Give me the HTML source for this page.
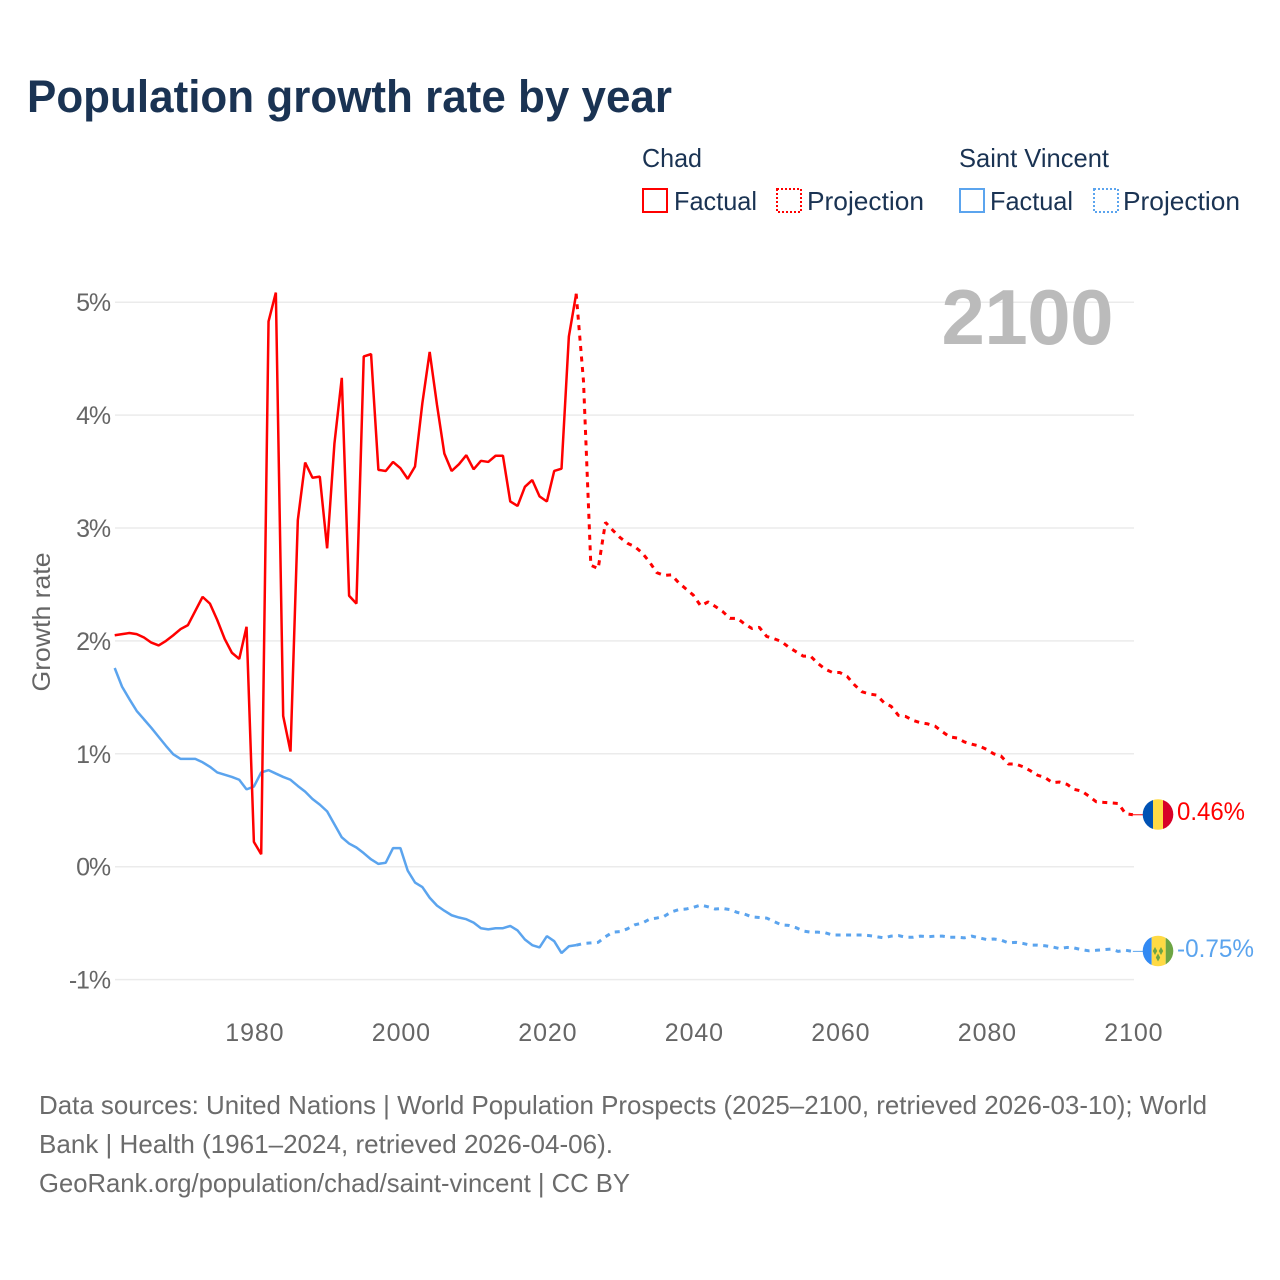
<!DOCTYPE html>
<html lang="en">
<head>
<meta charset="utf-8">
<title>Population growth rate by year</title>
<style>
  html, body { margin: 0; padding: 0; background: #ffffff; }
  svg { display: block; }
  text { font-family: "Liberation Sans", sans-serif; }
</style>
</head>
<body>
<svg id="chart" xmlns="http://www.w3.org/2000/svg" width="1280" height="1280" viewBox="0 0 1280 1280">
  <defs>
    <clipPath id="flag-clip-a"><circle cx="1158" cy="814.5" r="15.3"/></clipPath>
    <clipPath id="flag-clip-b"><circle cx="1158" cy="951" r="15.3"/></clipPath>
  </defs>
  <rect x="0" y="0" width="1280" height="1280" fill="#ffffff"/>

  <text x="27" y="112" font-size="45" font-weight="700" fill="#1a3353" textLength="645" lengthAdjust="spacingAndGlyphs">Population growth rate by year</text>

  <g font-size="26" fill="#1a3353">
    <text x="642" y="167" textLength="60" lengthAdjust="spacingAndGlyphs">Chad</text>
    <text x="959" y="167" textLength="150" lengthAdjust="spacingAndGlyphs">Saint Vincent</text>

    <rect x="643" y="189" width="24" height="23" fill="none" stroke="#ff0000" stroke-width="2"/>
    <text x="674" y="210" textLength="83" lengthAdjust="spacingAndGlyphs">Factual</text>
    <rect x="777" y="189" width="24" height="23" fill="none" stroke="#ff0000" stroke-width="2" stroke-dasharray="2 2"/>
    <text x="807" y="210" textLength="117" lengthAdjust="spacingAndGlyphs">Projection</text>

    <rect x="960" y="189" width="24" height="23" fill="none" stroke="#5ba4ee" stroke-width="2"/>
    <text x="990" y="210" textLength="83" lengthAdjust="spacingAndGlyphs">Factual</text>
    <rect x="1094" y="189" width="24" height="23" fill="none" stroke="#5ba4ee" stroke-width="2" stroke-dasharray="2 2"/>
    <text x="1123" y="210" textLength="117" lengthAdjust="spacingAndGlyphs">Projection</text>
  </g>

  <text transform="translate(50 622) rotate(-90)" text-anchor="middle" font-size="25" fill="#666666" textLength="139" lengthAdjust="spacingAndGlyphs">Growth rate</text>

  <g id="grid-layer"></g>
  <g id="y-tick-layer"></g>
  <g id="x-tick-layer"></g>

  <text x="1113" y="344" text-anchor="end" font-size="78" font-weight="700" fill="#bbbbbb" letter-spacing="-0.5">2100</text>

  <g id="series-layer"></g>

  <g clip-path="url(#flag-clip-a)">
    <rect x="1142" y="798" width="11" height="33" fill="#0052b4"/>
    <rect x="1153" y="798" width="10" height="33" fill="#ffda44"/>
    <rect x="1163" y="798" width="11" height="33" fill="#d80027"/>
  </g>
  <text x="1177" y="820" font-size="25" fill="#ff0000" textLength="68" lengthAdjust="spacingAndGlyphs">0.46%</text>

  <g clip-path="url(#flag-clip-b)">
    <rect x="1142" y="935" width="9.7" height="33" fill="#338af3"/>
    <rect x="1151.7" y="935" width="14" height="33" fill="#ffda44"/>
    <rect x="1165.7" y="935" width="9" height="33" fill="#6da544"/>
    <polygon points="1155,947 1157.2,951 1155,955 1152.8,951" fill="#6da544"/>
    <polygon points="1161,947 1163.2,951 1161,955 1158.8,951" fill="#6da544"/>
    <polygon points="1158,953.5 1160.2,957.5 1158,961.5 1155.8,957.5" fill="#6da544"/>
  </g>
  <text x="1177" y="957" font-size="25" fill="#5ba4ee" textLength="77" lengthAdjust="spacingAndGlyphs">-0.75%</text>

  <g font-size="26" fill="#6b6b6b">
    <text x="39" y="1114" textLength="1168" lengthAdjust="spacingAndGlyphs">Data sources: United Nations | World Population Prospects (2025–2100, retrieved 2026-03-10); World</text>
    <text x="39" y="1153" textLength="574" lengthAdjust="spacingAndGlyphs">Bank | Health (1961–2024, retrieved 2026-04-06).</text>
    <text x="39" y="1192" textLength="591" lengthAdjust="spacingAndGlyphs">GeoRank.org/population/chad/saint-vincent | CC BY</text>
  </g>
</svg>

<script>
const xTickYears = [1980, 2000, 2020, 2040, 2060, 2080, 2100];
const yTickValues = [-1, 0, 1, 2, 3, 4, 5];
const factualStartYear = 1961;
const projectionStartYear = 2024;

const chadFactual = [
  2.05, 2.06, 2.07, 2.06, 2.03, 1.985, 1.96, 2.0, 2.05, 2.105,
  2.14, 2.265, 2.39, 2.33, 2.185, 2.02, 1.895, 1.84, 2.125, 0.22,
  0.11, 4.83, 5.085, 1.335, 1.02, 3.07, 3.58, 3.445, 3.455, 2.82,
  3.75, 4.33, 2.4, 2.33, 4.52, 4.54, 3.515, 3.505, 3.585, 3.53,
  3.435, 3.545, 4.105, 4.56, 4.09, 3.66, 3.505, 3.565, 3.645, 3.52,
  3.595, 3.585, 3.64, 3.64, 3.235, 3.195, 3.365, 3.425, 3.28, 3.235,
  3.505, 3.525, 4.695, 5.075
];

const chadProjection = [
  5.075, 4.3, 2.67, 2.64, 3.05, 2.98, 2.915, 2.865, 2.835, 2.78,
  2.7, 2.605, 2.58, 2.585, 2.515, 2.46, 2.405, 2.31, 2.345, 2.305,
  2.26, 2.2, 2.2, 2.15, 2.11, 2.12, 2.04, 2.02, 1.995, 1.945,
  1.905, 1.865, 1.865, 1.8, 1.75, 1.72, 1.72, 1.685, 1.61, 1.55,
  1.53, 1.52, 1.455, 1.42, 1.34, 1.33, 1.295, 1.275, 1.265, 1.245,
  1.195, 1.15, 1.14, 1.105, 1.085, 1.07, 1.04, 1.0, 0.98, 0.91,
  0.91, 0.885, 0.85, 0.81, 0.79, 0.745, 0.75, 0.73, 0.685, 0.67,
  0.625, 0.575, 0.57, 0.565, 0.56, 0.47, 0.46
];

const vincentFactual = [
  1.76, 1.595, 1.485, 1.38, 1.305, 1.23, 1.15, 1.07, 0.995, 0.955,
  0.955, 0.955, 0.925, 0.885, 0.835, 0.815, 0.795, 0.77, 0.685, 0.71,
  0.835, 0.855, 0.825, 0.795, 0.77, 0.715, 0.665, 0.6, 0.55, 0.49,
  0.375, 0.26, 0.205, 0.17, 0.12, 0.065, 0.025, 0.035, 0.165, 0.165,
  -0.035, -0.14, -0.18, -0.275, -0.345, -0.39, -0.43, -0.45, -0.465, -0.495,
  -0.545, -0.555, -0.545, -0.545, -0.525, -0.565, -0.645, -0.695, -0.715, -0.615,
  -0.66, -0.765, -0.705, -0.695
];

const vincentProjection = [
  -0.695, -0.68, -0.675, -0.67, -0.62, -0.58, -0.575, -0.55, -0.515, -0.5,
  -0.465, -0.455, -0.44, -0.4, -0.38, -0.375, -0.36, -0.34, -0.355, -0.375,
  -0.37, -0.38, -0.405, -0.42, -0.445, -0.45, -0.455, -0.485, -0.515, -0.52,
  -0.54, -0.57, -0.58, -0.58, -0.585, -0.605, -0.605, -0.605, -0.605, -0.605,
  -0.61, -0.62, -0.63, -0.615, -0.61, -0.625, -0.625, -0.615, -0.62, -0.615,
  -0.615, -0.625, -0.625, -0.63, -0.615, -0.63, -0.645, -0.64, -0.65, -0.675,
  -0.67, -0.68, -0.695, -0.695, -0.7, -0.71, -0.725, -0.715, -0.72, -0.735,
  -0.745, -0.74, -0.735, -0.73, -0.75, -0.74, -0.75
];

const SVG_NS = 'http://www.w3.org/2000/svg';
const plotLeft = 115;
const plotRight = 1134;

function xScale(year) {
  return 114.7 + (year - 1961) * 7.325;
}

function yScale(value) {
  return 866.7 - value * 112.9;
}

function makeEl(tag, attrs) {
  const el = document.createElementNS(SVG_NS, tag);
  Object.keys(attrs).forEach(function (key) {
    el.setAttribute(key, attrs[key]);
  });
  return el;
}

function toPoints(values, startYear) {
  return values.map(function (value, i) {
    return xScale(startYear + i).toFixed(2) + ',' + yScale(value).toFixed(2);
  }).join(' ');
}

const gridLayer = document.getElementById('grid-layer');
const yTickLayer = document.getElementById('y-tick-layer');
const xTickLayer = document.getElementById('x-tick-layer');
const seriesLayer = document.getElementById('series-layer');

yTickValues.forEach(function (value) {
  const line = makeEl('line', {
    x1: plotLeft,
    x2: plotRight,
    y1: yScale(value),
    y2: yScale(value),
    stroke: '#ebebeb',
    'stroke-width': 1.5
  });
  
  
  gridLayer.appendChild(line);

  const label = makeEl('text', {
    x: 110,
    y: yScale(value) + 9,
    'text-anchor': 'end',
    'font-size': 25,
    'letter-spacing': -1.1,
    fill: '#666666'
  });
  label.textContent = value + '%';
  
  
  yTickLayer.appendChild(label);
});

xTickYears.forEach(function (year) {
  const label = makeEl('text', {
    x: xScale(year) + 1,
    y: 1041,
    'text-anchor': 'middle',
    'font-size': 25,
    'letter-spacing': 0.9,
    fill: '#666666'
  });
  label.textContent = year;
  
  
  xTickLayer.appendChild(label);
});

function drawLine(values, startYear, color, dashed) {
  const line = makeEl('polyline', {
    points: toPoints(values, startYear),
    fill: 'none',
    stroke: color,
    'stroke-width': dashed ? 3 : 2.5,
    'stroke-linejoin': 'bevel'
  });
  if (dashed) {
    line.setAttribute('stroke-dasharray', '5 5.5');
  }
  return line;
}

const chadFactualLine = drawLine(chadFactual, factualStartYear, '#ff0000', false);



const chadProjectionLine = drawLine(chadProjection, projectionStartYear, '#ff0000', true);



const vincentFactualLine = drawLine(vincentFactual, factualStartYear, '#5ba4ee', false);



const vincentProjectionLine = drawLine(vincentProjection, projectionStartYear, '#5ba4ee', true);



seriesLayer.appendChild(vincentFactualLine);
seriesLayer.appendChild(vincentProjectionLine);
seriesLayer.appendChild(chadFactualLine);
seriesLayer.appendChild(chadProjectionLine);

const chadConnector = makeEl('line', {
  x1: xScale(2100),
  x2: 1143,
  y1: yScale(chadProjection[chadProjection.length - 1]),
  y2: yScale(chadProjection[chadProjection.length - 1]),
  stroke: '#ff0000',
  'stroke-width': 1
});


seriesLayer.appendChild(chadConnector);

const vincentConnector = makeEl('line', {
  x1: xScale(2100),
  x2: 1143,
  y1: yScale(vincentProjection[vincentProjection.length - 1]),
  y2: yScale(vincentProjection[vincentProjection.length - 1]),
  stroke: '#5ba4ee',
  'stroke-width': 1
});


seriesLayer.appendChild(vincentConnector);
</script>
</body>
</html>
